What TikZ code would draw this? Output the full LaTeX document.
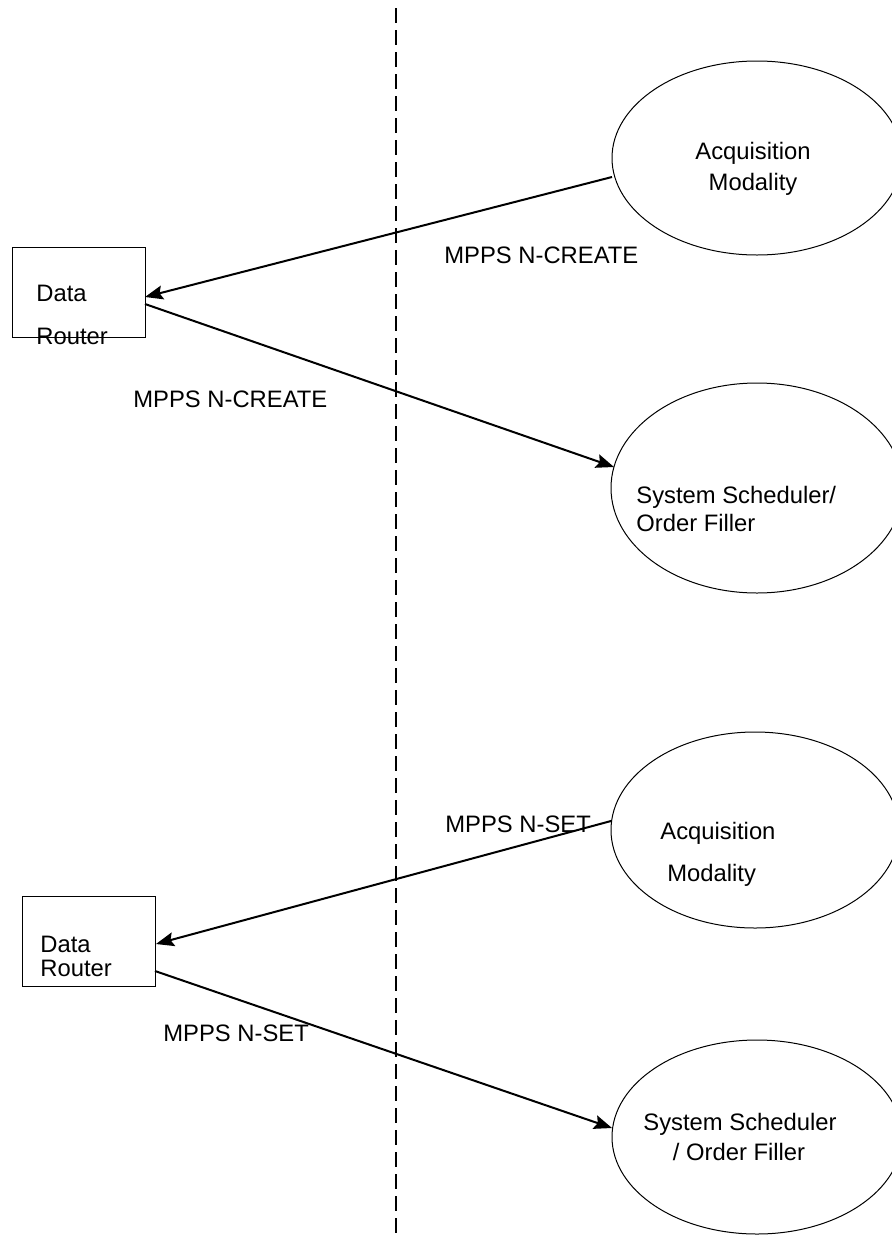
\documentclass[tikz,border=0pt]{standalone}
\usepackage{fontspec}
\setmainfont{Liberation Sans}
\usetikzlibrary{arrows.meta,shapes.geometric}
\begin{document}
\begin{tikzpicture}[x=0.5pt,y=-0.5pt,
  txt/.style={inner sep=0pt,anchor=base west,font=\fontsize{11.9}{14}\selectfont},
  txtc/.style={inner sep=0pt,anchor=base,font=\fontsize{11.9}{14}\selectfont},
  ell/.style={draw,ellipse,inner sep=0pt,line width=0.5pt},
  boxn/.style={draw,rectangle,inner sep=0pt,line width=0.5pt},
  msg/.style={line width=1pt,-{Stealth[length=9pt,width=7pt,inset=1.5pt]}},
  divider/.style={line width=0.75pt,dash pattern=on 7.5pt off 3.5pt}]
\useasboundingbox (0,0) rectangle (891,1237);
\fill[white] (0,0) rectangle (891,1237);
% divider
\coordinate (dtop) at (396,8);
\coordinate (dbot) at (396,1234);
\draw[divider] (dtop) -- (dbot);
% ellipses
\node[ell,minimum width=145pt,minimum height=97pt] (ell1) at (757,158) {};
\node[ell,minimum width=146pt,minimum height=105pt] (ell2) at (757,488) {};
\node[ell,minimum width=144pt,minimum height=98pt] (ell3) at (755,830) {};
\node[ell,minimum width=145pt,minimum height=97pt] (ell4) at (757,1137) {};
% boxes
\node[boxn,minimum width=66.5pt,minimum height=45pt] (box1) at (78.5,292) {};
\node[boxn,minimum width=66.5pt,minimum height=45pt] (box2) at (88.5,941) {};
% texts
\node[txtc] (t1a) at (753,159) {Acquisition};
\node[txtc] (t1b) at (753,190) {Modality};
\node[txt] (t2a) at (636,503) {System Scheduler/};
\node[txt] (t2b) at (636,531) {Order Filler};
\node[txt] (t3a) at (660,839) {Acquisition};
\node[txt] (t3b) at (667,881) {Modality};
\node[txtc] (t4a) at (740,1130) {System Scheduler};
\node[txtc] (t4b) at (739,1160) {/ Order Filler};
\node[txt] (b1a) at (36,301) {Data};
\node[txt] (b1b) at (36,344) {Router};
\node[txt] (b2a) at (40,952) {Data};
\node[txt] (b2b) at (40,976) {Router};
% labels
\node[txt] (l1) at (444,263) {MPPS N-CREATE};
\node[txt] (l2) at (133,407) {MPPS N-CREATE};
\node[txt] (l3) at (445,832) {MPPS N-SET};
\node[txt] (l4) at (163,1041) {MPPS N-SET};
% connectors
\coordinate (a1s) at (612,177);
\coordinate (a1e) at (145,297);
\coordinate (a2s) at (145,304);
\coordinate (a2e) at (614,467);
\coordinate (a3s) at (611,821);
\coordinate (a3e) at (156,944);
\coordinate (a4s) at (155,971);
\coordinate (a4e) at (612,1128);
\draw[msg] (a1s) -- (a1e);
\draw[msg] (a2s) -- (a2e);
\draw[msg] (a3s) -- (a3e);
\draw[msg] (a4s) -- (a4e);
\end{tikzpicture}
\end{document}
